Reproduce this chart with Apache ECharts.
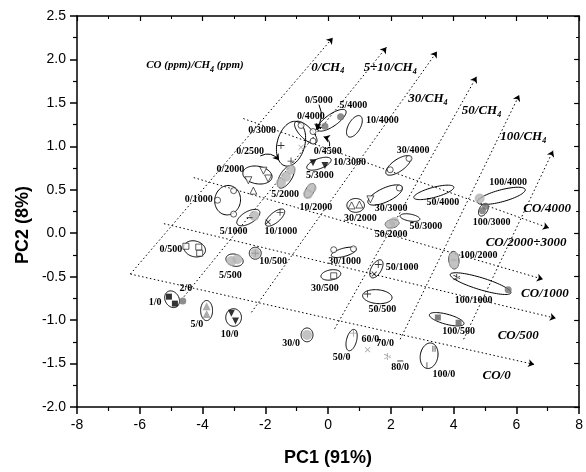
<!DOCTYPE html>
<html>
<head>
<meta charset="utf-8">
<script src="https://cdn.jsdelivr.net/npm/echarts@6/dist/echarts.min.js"></script>
<style>html,body{margin:0;padding:0;background:#fff}#chart{width:586px;height:472px}</style>
</head>
<body>
<div id="chart"></div>
<script>
// confidence ellipses: [pc1, pc2, semi-axis a, semi-axis b (PC1 units), tilt deg]
const ellipses = [
  [-1.18, 1.03, 0.73, 0.44, 75], [-0.71, 1.16, 0.47, 0.19, -45], [0.12, 1.30, 0.54, 0.19, 35],
  [0.84, 1.23, 0.38, 0.19, 60], [-2.25, 0.67, 0.47, 0.28, -10], [-1.34, 0.65, 0.41, 0.19, 58],
  [-0.29, 0.80, 0.41, 0.16, 20], [-0.58, 0.49, 0.25, 0.13, 60], [-3.20, 0.38, 0.47, 0.41, 80],
  [-2.54, 0.18, 0.41, 0.19, 30], [-1.69, 0.18, 0.38, 0.16, 40], [-4.25, -0.18, 0.35, 0.25, -15],
  [-2.98, -0.31, 0.28, 0.19, -15], [-2.32, -0.23, 0.19, 0.19, 0], [0.50, -0.22, 0.41, 0.13, 15],
  [0.09, -0.48, 0.32, 0.16, 10], [1.54, -0.41, 0.32, 0.16, 60], [1.57, -0.73, 0.47, 0.22, -5],
  [0.88, 0.32, 0.28, 0.22, 0], [1.82, 0.44, 0.60, 0.22, 25], [2.24, 0.78, 0.47, 0.19, 35],
  [3.37, 0.47, 0.66, 0.16, 15], [2.61, 0.18, 0.32, 0.11, -10], [2.04, 0.11, 0.22, 0.13, 10],
  [5.52, 0.43, 0.79, 0.19, 15], [4.95, 0.27, 0.22, 0.13, 60], [4.01, -0.31, 0.28, 0.16, 95],
  [4.86, -0.58, 1.01, 0.19, -17], [3.78, -0.99, 0.57, 0.16, -15], [3.22, -1.41, 0.41, 0.28, 80],
  [-3.87, -0.89, 0.32, 0.19, 90], [-3.01, -0.97, 0.28, 0.25, 90], [-0.67, -1.17, 0.22, 0.19, 90],
  [0.75, -1.23, 0.35, 0.16, 75], [-4.97, -0.76, 0.28, 0.22, 120]
];

// sample scores grouped by marker
const openCircles = [[-3.01, 0.49], [-3.52, 0.38], [-3.01, 0.22], [-0.86, 1.24], [-0.48, 1.17], [-0.48, 1.06],
  [1.98, 0.73], [2.58, 0.86], [2.27, 0.52], [0.18, -0.19], [0.81, -0.18]];
const openSquares = [[-4.53, -0.15], [-4.12, -0.16], [-4.09, -0.23], [0.18, -0.49]];
const openDownTri = [[-2.54, 0.61], [-2.06, 0.72], [-1.91, 0.63], [1.35, 0.39]];
const openUpTri = [[-2.38, 0.49], [0.75, 0.32], [1.00, 0.33]];
const blackDownTri = [[-0.48, 0.81], [-0.10, 0.78], [-3.08, -0.92], [-2.95, -1.01], [-0.33, 1.22]];
const grayUpTri = [[-3.87, -0.84], [-3.87, -0.93]];
const blackSquares = [[-5.07, -0.73], [-4.88, -0.81]];
const lightGrayDots = [[-1.50, 0.58], [-1.34, 0.65], [-1.18, 0.73], [-0.64, 0.45], [-0.52, 0.52],
  [-3.08, -0.32], [-2.89, -0.30], [-2.32, -0.23], [-2.35, 0.20], [-0.67, -1.17], [1.98, 0.10],
  [2.11, 0.13], [4.01, -0.27], [4.01, -0.35], [4.83, 0.40]];
const darkGrayDots = [[4.92, 0.26], [5.02, 0.31], [0.40, 1.34], [-0.10, 1.23], [-4.63, -0.78], [5.74, -0.65]];
const darkSquares = [[3.50, -0.97], [4.16, -1.03]];
const plusBlack = [[-1.50, 1.01], [-1.18, 0.83], [-1.53, 0.24], [1.26, -0.70], [1.60, -0.36]];
const plusGray = [[0.81, -1.15], [-2.32, -0.23]];
const crossBlack = [[-1.91, 0.13], [1.47, -0.47]];
const crossGray = [[-0.86, 0.99], [1.26, -1.34]];
const starBlack = [[4.10, -0.51]];
const starGray = [[1.89, -1.42]];
const hBars = [[2.30, -1.47], [-2.50, 0.18]];
const vBars = [[3.15, -1.52], [3.34, -1.33], [3.41, -1.33]];

// group labels: [pc1, pc2, text]
const pointLabels = [
  [-0.29, 1.53, '0/5000'], [0.81, 1.47, '5/4000'], [-0.55, 1.34, '0/4000'], [1.73, 1.30, '10/4000'],
  [-2.10, 1.18, '0/3000'], [-2.48, 0.94, '0/2500'], [-0.01, 0.94, '0/4500'], [0.69, 0.81, '10/3000'],
  [-0.26, 0.66, '5/3000'], [-3.11, 0.73, '0/2000'], [-1.37, 0.45, '5/2000'], [-0.39, 0.30, '10/2000'],
  [-4.12, 0.39, '0/1000'], [-3.01, 0.02, '5/1000'], [-1.50, 0.02, '10/1000'], [-5.01, -0.19, '0/500'],
  [-3.11, -0.48, '5/500'], [-1.75, -0.33, '10/500'], [2.71, 0.95, '30/4000'], [2.01, 0.28, '30/3000'],
  [1.03, 0.17, '30/2000'], [0.53, -0.33, '30/1000'], [-0.10, -0.64, '30/500'], [3.66, 0.35, '50/4000'],
  [3.12, 0.08, '50/3000'], [2.01, -0.01, '50/2000'], [2.36, -0.39, '50/1000'], [1.73, -0.88, '50/500'],
  [5.74, 0.59, '100/4000'], [5.21, 0.13, '100/3000'], [4.80, -0.26, '100/2000'], [4.64, -0.77, '100/1000'],
  [4.16, -1.13, '100/500'], [3.69, -1.63, '100/0'], [2.30, -1.55, '80/0'], [1.82, -1.27, '70/0'],
  [1.35, -1.22, '60/0'], [0.43, -1.43, '50/0'], [-1.18, -1.27, '30/0'], [-3.14, -1.17, '10/0'],
  [-4.18, -1.05, '5/0'], [-5.51, -0.80, '1/0'], [-4.53, -0.63, '2/0']
];

// trend labels (italic) : [pc1, pc2, text, subscript, tail]
const trendLabels = [
  [-4.24, 1.93, 'CO (ppm)/CH', '4', ' (ppm)'], [-0.01, 1.91, '0/CH', '4', ''], [1.98, 1.90, '5÷10/CH', '4', ''],
  [3.18, 1.55, '30/CH', '4', ''], [4.89, 1.41, '50/CH', '4', ''], [6.22, 1.11, '100/CH', '4', ''],
  [6.98, 0.28, 'CO/4000', '', ''], [6.31, -0.11, 'CO/2000÷3000', '', ''], [6.91, -0.69, 'CO/1000', '', ''],
  [6.06, -1.18, 'CO/500', '', ''], [5.37, -1.64, 'CO/0', '', '']
];

// dotted trend lines (polylines, arrow at the last point)
const coLines = [
  [[-2.70, 1.32], [7.04, 0.06]],
  [[-4.28, 0.64], [6.85, -0.53]],
  [[-5.23, 0.11], [7.26, -0.98]],
  [[-6.30, -0.47], [6.57, -1.51]]
];
const ch4Lines = [
  [[-6.30, -0.47], [0.15, 2.25]],
  [[-4.59, -0.73], [1.86, 2.14]],
  [[-2.44, -0.91], [3.47, 2.09]],
  [[0.21, -1.10], [4.73, 1.80]],
  [[2.30, -1.22], [6.09, 1.59]],
  [[4.32, -1.22], [7.17, 0.95]]
];
// callout arrows from labels to groups: [from, to, curveness]
const callouts = [
  [[-0.29, 1.48], [-0.39, 1.19], 0.3], [[0.05, 1.00], [-0.14, 1.11], -0.4], [[-2.16, 0.89], [-1.56, 0.84], 0.4]
];

const chart = echarts.init(document.getElementById('chart'));

const renderEllipse = (params, api) => {
  const c = api.coord([api.value(0), api.value(1)]);
  const unit = api.size([1, 0])[0];
  const a = api.value(2) * unit, b = api.value(3) * unit;
  const t = api.value(4) * Math.PI / 180;
  const pts = [];
  for (let i = 0; i < 72; i++) {
    const u = i / 72 * 2 * Math.PI;
    const ex = a * Math.cos(u), ey = b * Math.sin(u);
    pts.push([c[0] + ex * Math.cos(t) - ey * Math.sin(t), c[1] - (ex * Math.sin(t) + ey * Math.cos(t))]);
  }
  return { type: 'polygon', shape: { points: pts }, style: { fill: 'none', stroke: '#000', lineWidth: 1 } };
};

const textSeries = (rows, styleFn) => ({
  type: 'custom',
  data: rows.map(r => [r[0], r[1]]),
  silent: true,
  z: 5,
  renderItem: (params, api) => {
    const p = api.coord([api.value(0), api.value(1)]);
    return { type: 'text', x: p[0], y: p[1], style: styleFn(rows[params.dataIndex]) };
  }
});

const plusPath = 'path://M4.4,0h1.2v10h-1.2z M0,4.4h10v1.2h-10z';
const starPath = 'path://M4.4,0h1.2v10h-1.2z M0.4,2.1l0.6,-1l8.6,5l-0.6,1z M0.4,7.9l0.6,1l8.6,-5l-0.6,-1z';
const downTri = 'path://M0,0L10,0L5,9Z';

const scatter = (data, symbol, size, itemStyle, rotate) => ({
  type: 'scatter', data, symbol, symbolSize: size, symbolRotate: rotate || 0,
  itemStyle, silent: true, z: 4
});
const open = { color: '#fff', borderColor: '#000', borderWidth: 0.8 };

// split polylines into segments, only the last one carries the arrow head
const guide = (lines) => {
  const data = [];
  lines.forEach(pl => {
    for (let i = 0; i < pl.length - 1; i++) {
      const last = i === pl.length - 2;
      data.push({ coords: [pl[i], pl[i + 1]], symbol: last ? ['none', 'arrow'] : ['none', 'none'] });
    }
  });
  return {
    type: 'lines', coordinateSystem: 'cartesian2d', silent: true, z: 2,
    symbol: ['none', 'arrow'], symbolSize: 6,
    lineStyle: { color: '#000', width: 1, type: [1.5, 2.5], opacity: 1 },
    data
  };
};

const axisCommon = {
  axisLine: { show: true, onZero: false, lineStyle: { color: '#000', width: 1.5 } },
  splitLine: { show: false }
};

chart.setOption({
  animation: false,
  grid: { left: 77, right: 3, top: 16, bottom: 60 },
  xAxis: [
    {
      ...axisCommon, type: 'value', min: -8, max: 8, interval: 2, position: 'bottom',
      name: 'PC1 (91%)', nameLocation: 'middle', nameGap: 42,
      nameTextStyle: { fontFamily: 'Liberation Sans', fontWeight: 'bold', fontSize: 18, color: '#000' },
      axisTick: { show: true, inside: false, length: 7, lineStyle: { color: '#000', width: 1.5 } },
      minorTick: { show: true, splitNumber: 2, length: 4, lineStyle: { color: '#000', width: 1.2 } },
      axisLabel: { fontFamily: 'Liberation Sans', fontSize: 14, color: '#000', margin: 11 }
    },
    {
      ...axisCommon, type: 'value', min: -8, max: 8, interval: 2, position: 'top',
      axisTick: { show: true, inside: true, length: 5, lineStyle: { color: '#000', width: 1.2 } },
      minorTick: { show: true, splitNumber: 2, length: 3, lineStyle: { color: '#000', width: 1 } },
      axisLabel: { show: false }
    }
  ],
  yAxis: [
    {
      ...axisCommon, type: 'value', min: -2, max: 2.5, interval: 0.5, position: 'left',
      axisTick: { show: true, inside: false, length: 7, lineStyle: { color: '#000', width: 1.5 } },
      minorTick: { show: true, splitNumber: 2, length: 4, lineStyle: { color: '#000', width: 1.2 } },
      axisLabel: { fontFamily: 'Liberation Sans', fontSize: 14, color: '#000', margin: 11,
        formatter: v => v.toFixed(1) }
    },
    {
      ...axisCommon, type: 'value', min: -2, max: 2.5, interval: 0.5, position: 'right',
      axisTick: { show: true, inside: true, length: 5, lineStyle: { color: '#000', width: 1.2 } },
      minorTick: { show: true, splitNumber: 2, length: 3, lineStyle: { color: '#000', width: 1 } },
      axisLabel: { show: false }
    }
  ],
  graphic: [{
    type: 'text', x: 23, y: 225, rotation: Math.PI / 2,
    style: { text: 'PC2 (8%)', font: 'bold 18px "Liberation Sans"', fill: '#000',
      align: 'center', verticalAlign: 'middle' }
  }],
  series: [
    guide(coLines),
    guide(ch4Lines),
    {
      type: 'lines', coordinateSystem: 'cartesian2d', silent: true, z: 3,
      symbol: ['none', 'arrow'], symbolSize: 6,
      data: callouts.map(c => ({ coords: [c[0], c[1]], lineStyle: { curveness: c[2] } })),
      lineStyle: { color: '#000', width: 1, opacity: 1 }
    },
    scatter(lightGrayDots, 'circle', 10, { color: '#b4b4b4' }),
    scatter(darkGrayDots, 'circle', 7, { color: '#707070' }),
    scatter(darkSquares, 'rect', 6, { color: '#606060' }),
    { type: 'custom', data: ellipses, renderItem: renderEllipse, silent: true, z: 3 },
    scatter(openCircles, 'circle', 6, open),
    scatter(openSquares, 'rect', 6, open),
    scatter(openDownTri, downTri, 7, open),
    scatter(openUpTri, 'triangle', 7, open),
    scatter(blackDownTri, downTri, 7, { color: '#000' }),
    scatter(grayUpTri, 'triangle', 8, { color: '#999' }),
    scatter(blackSquares, 'rect', 6, { color: '#000' }),
    scatter(plusBlack, plusPath, 7, { color: '#000' }),
    scatter(plusGray, plusPath, 7, { color: '#888' }),
    scatter(crossBlack, plusPath, 7, { color: '#000' }, 45),
    scatter(crossGray, plusPath, 7, { color: '#999' }, 45),
    scatter(starBlack, starPath, 7, { color: '#000' }),
    scatter(starGray, starPath, 7, { color: '#888' }),
    scatter(hBars, 'rect', [6, 1.2], { color: '#333' }),
    scatter(vBars, 'rect', [1.2, 6], { color: '#555' }),
    textSeries(pointLabels, r => ({
      text: r[2], font: 'bold 10px "Liberation Serif"', fill: '#000',
      align: 'center', verticalAlign: 'middle'
    })),
    textSeries(trendLabels, r => ({
      text: '{m|' + r[2] + '}' + (r[3] ? '{s|' + r[3] + '}' : '') + (r[4] ? '{m|' + r[4] + '}' : ''),
      align: 'center', verticalAlign: 'middle', fill: '#000',
      rich: {
        m: { fontFamily: 'Liberation Serif', fontStyle: 'italic', fontWeight: 'bold',
          fontSize: r[4] ? 11 : 13, lineHeight: 16, verticalAlign: 'middle' },
        s: { fontFamily: 'Liberation Serif', fontStyle: 'italic', fontWeight: 'bold',
          fontSize: 8, lineHeight: 16, verticalAlign: 'bottom' }
      }
    }))
  ]
});
</script>
</body>
</html>
